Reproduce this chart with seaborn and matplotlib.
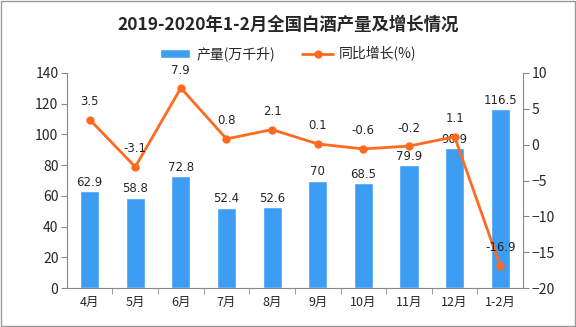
import matplotlib
matplotlib.use("Agg")
import matplotlib.pyplot as plt
import seaborn as sns
import pandas as pd
from matplotlib.patches import Rectangle

months = ["4月", "5月", "6月", "7月", "8月", "9月", "10月", "11月", "12月", "1-2月"]
output = [62.9, 58.8, 72.8, 52.4, 52.6, 70, 68.5, 79.9, 90.9, 116.5]
growth = [3.5, -3.1, 7.9, 0.8, 2.1, 0.1, -0.6, -0.2, 1.1, -16.9]
output_labels = ["62.9", "58.8", "72.8", "52.4", "52.6", "70", "68.5", "79.9", "90.9", "116.5"]
growth_labels = ["3.5", "-3.1", "7.9", "0.8", "2.1", "0.1", "-0.6", "-0.2", "1.1", "-16.9"]

sns.set_style("white")
plt.rcParams['font.family'] = ['Noto Sans CJK SC', 'DejaVu Sans']

df = pd.DataFrame({"month": months, "output": output, "growth": growth})

fig = plt.figure(figsize=(5.76, 3.27), dpi=100)
ax = fig.add_axes([0.116, 0.119, 0.792, 0.658])
bar_color = "#3D9DF2"
line_color = "#FF6A1F"
sns.barplot(data=df, x="month", y="output", color=bar_color, width=0.42,
            saturation=1, ax=ax, label="产量(万千升)")
if ax.get_legend() is not None:
    ax.get_legend().remove()
ax.set_ylim(0, 140)
ax.set_yticks(range(0, 141, 20))
ax.set_xlabel("")
ax.set_ylabel("")
for i, (v, s) in enumerate(zip(output, output_labels)):
    ax.text(i, v + 1.5, s, ha="center", va="bottom", fontsize=8.5, family="DejaVu Sans")

ax2 = ax.twinx()
sns.lineplot(x=list(range(len(months))), y=growth, ax=ax2, color=line_color,
             linewidth=2, marker="o", markersize=6, markeredgewidth=0,
             label="同比增长(%)", legend=False)
ax2.set_ylim(-20, 10)
ax2.set_yticks(range(-20, 11, 5))
for i, (v, s) in enumerate(zip(growth, growth_labels)):
    ax2.text(i, v + 1.6, s, ha="center", va="bottom", fontsize=8.5, family="DejaVu Sans")

ax.set_xlim(-0.5, len(months) - 0.5)
for a in (ax, ax2):
    a.spines["top"].set_visible(False)
    a.spines["left"].set_color("#888888")
    a.spines["right"].set_color("#888888")
    a.spines["bottom"].set_color("#888888")
ax.spines["right"].set_visible(False)
ax2.spines["left"].set_visible(False)
ax2.spines["bottom"].set_visible(False)
ax.tick_params(axis="y", left=True, length=4, color="#888888", labelsize=10, pad=2)
ax.tick_params(axis="x", bottom=True, length=0, labelsize=9, pad=6)
ax2.tick_params(axis="y", right=True, length=4, color="#888888", labelsize=10, pad=2)
ax.set_xticks([i + 0.5 for i in range(len(months) - 1)], minor=True)
ax.tick_params(axis="x", which="minor", bottom=True, length=4, color="#888888")

h1, l1 = ax.get_legend_handles_labels()
h2, l2 = ax2.get_legend_handles_labels()
fig.legend(h1 + h2, l1 + l2, loc="center", bbox_to_anchor=(0.5, 0.835), ncol=2,
           frameon=False, fontsize=10, handlelength=2.2, columnspacing=2.0,
           handletextpad=0.4)

fig.text(0.5, 0.925, "2019-2020年1-2月全国白酒产量及增长情况", ha="center", va="center",
         fontsize=12.5, fontweight="bold")
fig.patches.append(Rectangle((0.001, 0.002), 0.997, 0.995, transform=fig.transFigure,
                             fill=False, edgecolor="#999999", linewidth=1))
fig.savefig("out.png", dpi=100)
